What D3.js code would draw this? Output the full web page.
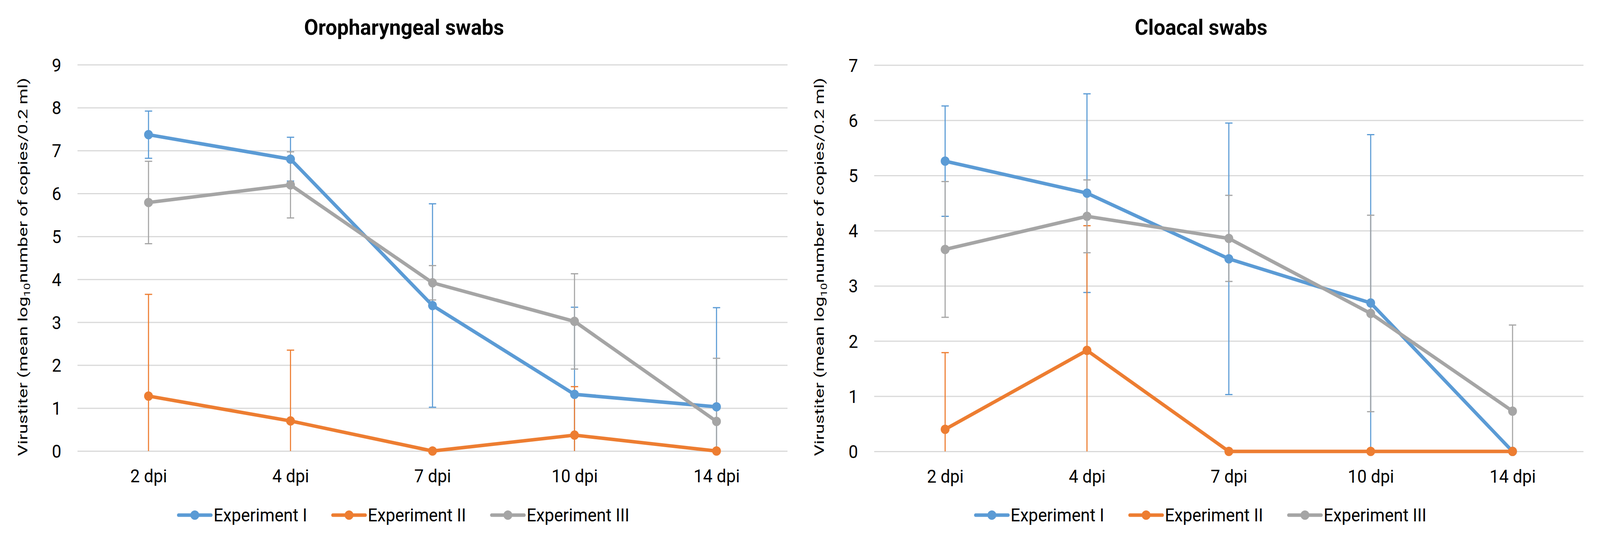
<!DOCTYPE html>
<html>
<head>
<meta charset="utf-8">
<script src="https://cdn.jsdelivr.net/npm/d3@7"></script>
<style>
  html, body { margin: 0; padding: 0; background: #fff; overflow: hidden; }
  #chart { display: block; width: 100vw; height: 100vh; }
  text { font-family: "Roboto", "Noto Sans", sans-serif; fill: #000; }
</style>
</head>
<body>
<svg id="chart"></svg>
<script>
// categories + series
const categories = ["2 dpi", "4 dpi", "7 dpi", "10 dpi", "14 dpi"];
const seriesNames = ["Experiment I", "Experiment II", "Experiment III"];
const seriesColors = ["#5B9BD5", "#ED7D31", "#A5A5A5"];

// Oropharyngeal swabs: means and error (+/-)
const oroMeanI = [7.37, 6.80, 3.39, 1.32, 1.03];
const oroErrI = [0.55, 0.51, 2.37, 2.03, 2.31];
const oroMeanII = [1.28, 0.70, 0, 0.37, 0];
const oroErrII = [2.37, 1.65, 0, 1.13, 0];
const oroMeanIII = [5.79, 6.20, 3.92, 3.02, 0.69];
const oroErrIII = [0.96, 0.77, 0.40, 1.11, 1.47];

// Cloacal swabs
const cloMeanI = [5.26, 4.68, 3.49, 2.69, 0];
const cloErrI = [1.00, 1.80, 2.46, 3.05, 0];
const cloMeanII = [0.40, 1.83, 0, 0, 0];
const cloErrII = [1.39, 2.26, 0, 0, 0];
const cloMeanIII = [3.66, 4.26, 3.86, 2.50, 0.73];
const cloErrIII = [1.23, 0.66, 0.78, 1.78, 1.56];

const oroTicks = [0, 1, 2, 3, 4, 5, 6, 7, 8, 9];
const cloTicks = [0, 1, 2, 3, 4, 5, 6, 7];

const width = 4356, height = 1374;
// viewBox stretched over the whole window
const svg = d3.select('#chart')
    .attr('viewBox', `0 0 ${width} ${height}`)
    .attr('preserveAspectRatio', 'none');
svg.append('rect').attr('width', width).attr('height', height).attr('fill', '#fff');

function drawPanel(p) {
  const x = d3.scalePoint().domain(categories).range([p.left, p.right]).padding(0.5);
  const y = d3.scaleLinear().domain([0, d3.max(p.ticks)]).range([p.bottom, p.top]);
  const g = svg.append('g');

  // gridlines + y labels
  const yAxis = g.append('g')
      .attr('transform', `translate(${p.left},0)`)
      .call(d3.axisLeft(y).tickValues(p.ticks).tickSize(-(p.right - p.left)).tickPadding(44).tickFormat(d3.format('d')));
  yAxis.select('.domain').remove();
  yAxis.selectAll('line').attr('stroke', '#D9D9D9').attr('stroke-width', 3);
  yAxis.selectAll('text').attr('font-size', 46).attr('font-family', null).attr('dy', '0.36em');

  // x labels
  const xAxis = g.append('g')
      .attr('transform', `translate(0,${p.bottom})`)
      .call(d3.axisBottom(x).tickSize(0));
  xAxis.select('.domain').remove();
  xAxis.selectAll('text').attr('font-size', 46).attr('font-family', null).attr('y', 80).attr('dy', 0);

  // title
  g.append('text')
      .attr('x', p.center).attr('y', 89)
      .attr('text-anchor', 'middle')
      .attr('font-size', 56).attr('font-weight', 'bold')
      .text(p.title);

  // y axis title
  const yt = g.append('text')
      .attr('transform', `translate(${p.ytX},683) rotate(-90)`)
      .attr('text-anchor', 'middle')
      .attr('font-size', 36)
      .attr('textLength', 968).attr('lengthAdjust', 'spacingAndGlyphs');
  yt.append('tspan').text('Virustiter (mean log');
  yt.append('tspan').attr('font-size', 24).attr('dy', 8).text('10');
  yt.append('tspan').attr('dy', -8).text('number of copies/0.2 ml)');

  // error bars first
  p.series.forEach((s, i) => {
    const eb = g.append('g').attr('stroke', seriesColors[i]).attr('stroke-width', 3);
    s.mean.forEach((m, j) => {
      const e = s.err[j];
      if (!e) return;
      const cx = x(categories[j]);
      const lo = Math.max(0, m - e), hi = m + e;
      eb.append('line').attr('x1', cx).attr('x2', cx).attr('y1', y(lo)).attr('y2', y(hi));
      eb.append('line').attr('x1', cx - 10).attr('x2', cx + 10).attr('y1', y(hi)).attr('y2', y(hi));
      if (m - e >= 0)
        eb.append('line').attr('x1', cx - 10).attr('x2', cx + 10).attr('y1', y(lo)).attr('y2', y(lo));
    });
  });

  const line = d3.line().x((d, j) => x(categories[j])).y(d => y(d));
  p.series.forEach((s, i) => {
    g.append('path')
        .datum(s.mean)
        .attr('fill', 'none')
        .attr('stroke', seriesColors[i])
        .attr('stroke-width', 9)
        .attr('stroke-linejoin', 'round')
        .attr('d', line);
    g.selectAll(null)
        .data(s.mean)
        .enter().append('circle')
        .attr('cx', (d, j) => x(categories[j]))
        .attr('cy', d => y(d))
        .attr('r', 12)
        .attr('fill', seriesColors[i]);
  });

  // legend
  const lg = g.append('g');
  let cur = 0;
  seriesNames.forEach((name, i) => {
    const item = lg.append('g').attr('transform', `translate(${cur},0)`);
    item.append('line').attr('x1', 0).attr('x2', 88).attr('y1', 0).attr('y2', 0)
        .attr('stroke', seriesColors[i]).attr('stroke-width', 9).attr('stroke-linecap', 'round');
    item.append('circle').attr('cx', 44).attr('cy', 0).attr('r', 12).attr('fill', seriesColors[i]);
    const t = item.append('text').attr('x', 95).attr('y', 16).attr('font-size', 46).text(name);
    cur += 95 + t.node().getComputedTextLength() + 70;
  });
  const lw = cur - 70;
  lg.attr('transform', `translate(${p.center - lw / 2},1318)`);
}

drawPanel({
  title: 'Oropharyngeal swabs', center: 1100, ytX: 74,
  left: 211, right: 2144, top: 165.6, bottom: 1154, ticks: oroTicks,
  series: [
    {mean: oroMeanI, err: oroErrI},
    {mean: oroMeanII, err: oroErrII},
    {mean: oroMeanIII, err: oroErrIII}
  ]
});

drawPanel({
  title: 'Cloacal swabs', center: 3270, ytX: 2243,
  left: 2380, right: 4311, top: 166.6, bottom: 1155, ticks: cloTicks,
  series: [
    {mean: cloMeanI, err: cloErrI},
    {mean: cloMeanII, err: cloErrII},
    {mean: cloMeanIII, err: cloErrIII}
  ]
});
</script>
</body>
</html>
